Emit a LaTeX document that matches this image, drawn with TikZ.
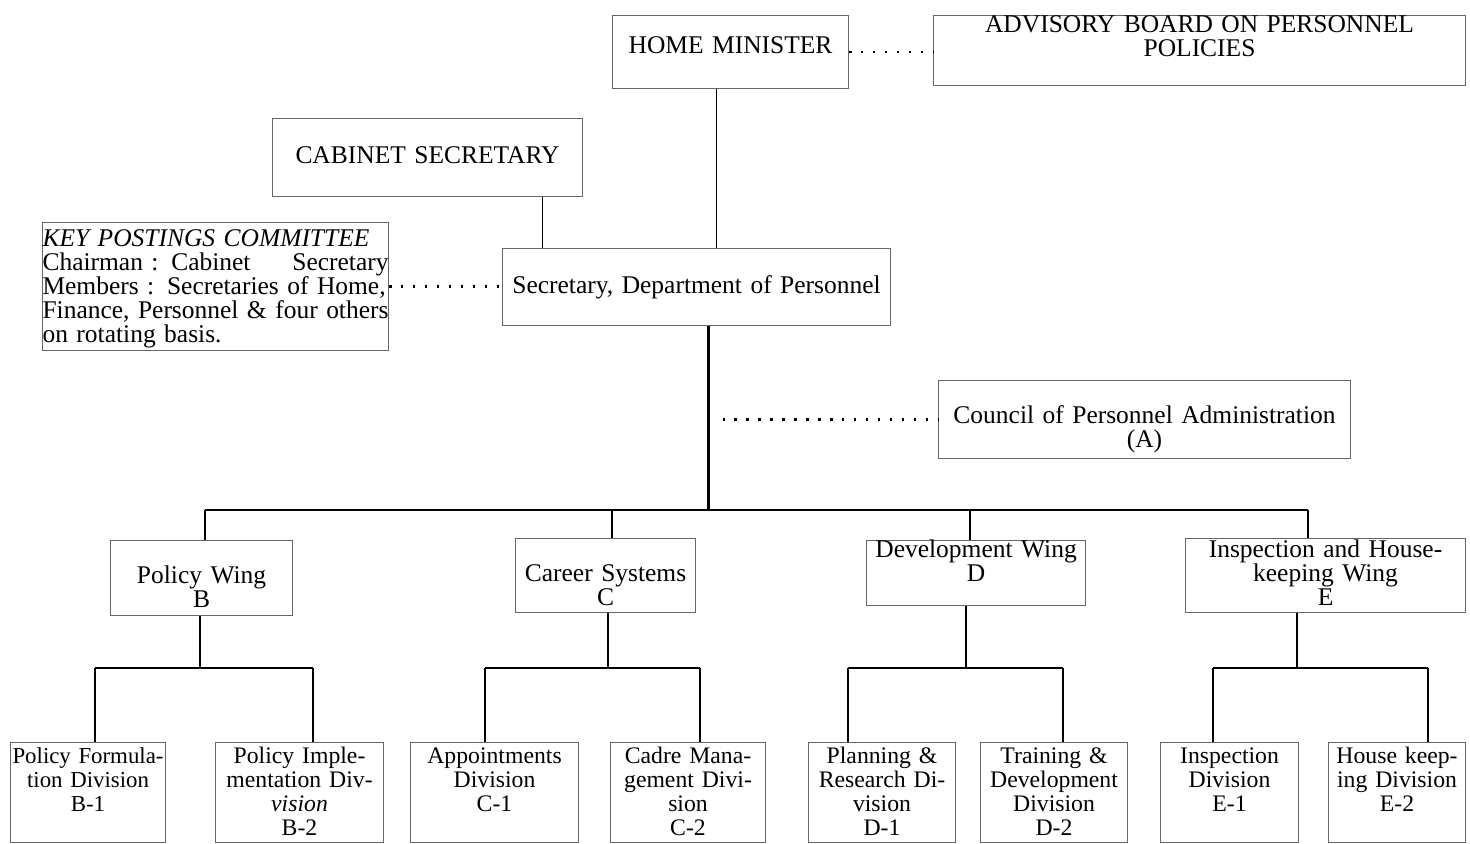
\documentclass[tikz,border=0pt]{standalone}
\usepackage{fontspec}
\setmainfont{Liberation Serif}
\newdimen\pxu
\pxu=0.02cm
\begin{document}
\begin{tikzpicture}[
  x=0.02cm, y=-0.02cm,
  block/.style={rectangle, draw=black!60, line width=0.6pt, anchor=north west, inner xsep=0pt, inner ysep=0pt, text width=#1\pxu, align=center},
  unit/.style={block=#1, font=\fontsize{13.5}{13.6}\selectfont, text height=21\pxu, text depth=79\pxu},
  link/.style={line width=0.9pt},
  dots/.style={line width=1.4pt, dash pattern=on 1.4pt off 5.4pt},
  font=\fontsize{14.5}{13.6}\selectfont
]
\useasboundingbox[fill=white] (0,0) rectangle (1470,844);

% Top
\node[block=236, text height=38\pxu, text depth=35\pxu] (home) at (612,15) {HOME MINISTER};
\node[block=532, text height=17\pxu, text depth=53\pxu] (board) at (933,15) {ADVISORY BOARD ON PERSONNEL\\POLICIES};
\node[block=310, text height=45\pxu, text depth=33\pxu] (cabsec) at (272,118) {CABINET SECRETARY};

% Secretary level
\node[block=346, align=left, text height=24\pxu, text depth=104\pxu] (kpc) at (42,222) {\textit{KEY POSTINGS COMMITTEE}\\Chairman : Cabinet\hfill Secretary\\Members : Secretaries of Home,\\Finance, Personnel \& four others\\on rotating basis.};
\node[block=388, text height=45\pxu, text depth=32\pxu] (secr) at (502,248) {Secretary, Department of Personnel};
\node[block=412, text height=43\pxu, text depth=35\pxu] (council) at (938,380) {Council of Personnel Administration\\(A)};

% Wings
\node[block=182, text height=43\pxu, text depth=32\pxu] (pw) at (110,540) {Policy Wing\\B};
\node[block=180, text height=43\pxu, text depth=31\pxu] (cs) at (515,538) {Career Systems\\C};
\node[block=219, text height=17\pxu, text depth=48\pxu] (dw) at (866,540) {Development Wing\\D};
\node[block=280, text height=19\pxu, text depth=55\pxu] (iw) at (1185,538) {Inspection and House-\\keeping Wing\\E};

% Divisions
\node[unit=155, font=\fontsize{13}{13.6}\selectfont] (b1) at (10,742) {Policy Formula-\\tion Division\\B-1};
\node[unit=168] (b2) at (215,742) {Policy Imple-\\mentation Div-\\\textit{vision}\\B-2};
\node[unit=168] (c1) at (410,742) {Appointments\\Division\\C-1};
\node[unit=155] (c2) at (610,742) {Cadre Mana-\\gement Divi-\\sion\\C-2};
\node[unit=147] (d1) at (808,742) {Planning \&\\Research Di-\\vision\\D-1};
\node[unit=147] (d2) at (980,742) {Training \&\\Development\\Division\\D-2};
\node[unit=138] (e1) at (1160,742) {Inspection\\Division\\E-1};
\node[unit=137] (e2) at (1328,742) {House keep-\\ing Division\\E-2};

% Connections
\coordinate (hm) at ([xshift=-14\pxu]home.south);
\coordinate (cb) at ([xshift=115\pxu]cabsec.south);
\coordinate (sp) at ([xshift=12\pxu]secr.south);
\coordinate (bus) at (sp |- 0,510);
\draw[link] (hm) -- (hm |- secr.north);
\draw[link] (cb) -- (cb |- secr.north);
\draw[dots] (home.east) -- (home.east -| board.west);
\draw[dots] (kpc.east) -- (kpc.east -| secr.west);
\draw[link, line width=1.3pt] (sp) -- (bus);
\draw[dots] ([xshift=14\pxu]sp |- council.west) -- (council.west);

\foreach \w/\x in {pw/205, cs/612, dw/970, iw/1308}
  \coordinate (\w-top) at (\x,510);
\draw[link, line width=1.2pt] (pw-top) -- (iw-top);
\foreach \w in {pw, cs, dw, iw}
  \draw[link] (\w-top) -- (\w-top |- \w.north);

\foreach \w/\xm/\xl/\xr/\cl/\cr in {pw/200/95/313/b1/b2, cs/608/485/700/c1/c2, dw/966/848/1063/d1/d2, iw/1297/1213/1428/e1/e2}{
  \coordinate (\w-j) at (\xm,668);
  \coordinate (\w-l) at (\xl,668);
  \coordinate (\w-r) at (\xr,668);
  \draw[link] (\w-j |- \w.south) -- (\w-j);
  \draw[link] (\w-l) -- (\w-r);
  \draw[link] (\w-l) -- (\w-l |- \cl.north);
  \draw[link] (\w-r) -- (\w-r |- \cr.north);
}
\end{tikzpicture}
\end{document}
